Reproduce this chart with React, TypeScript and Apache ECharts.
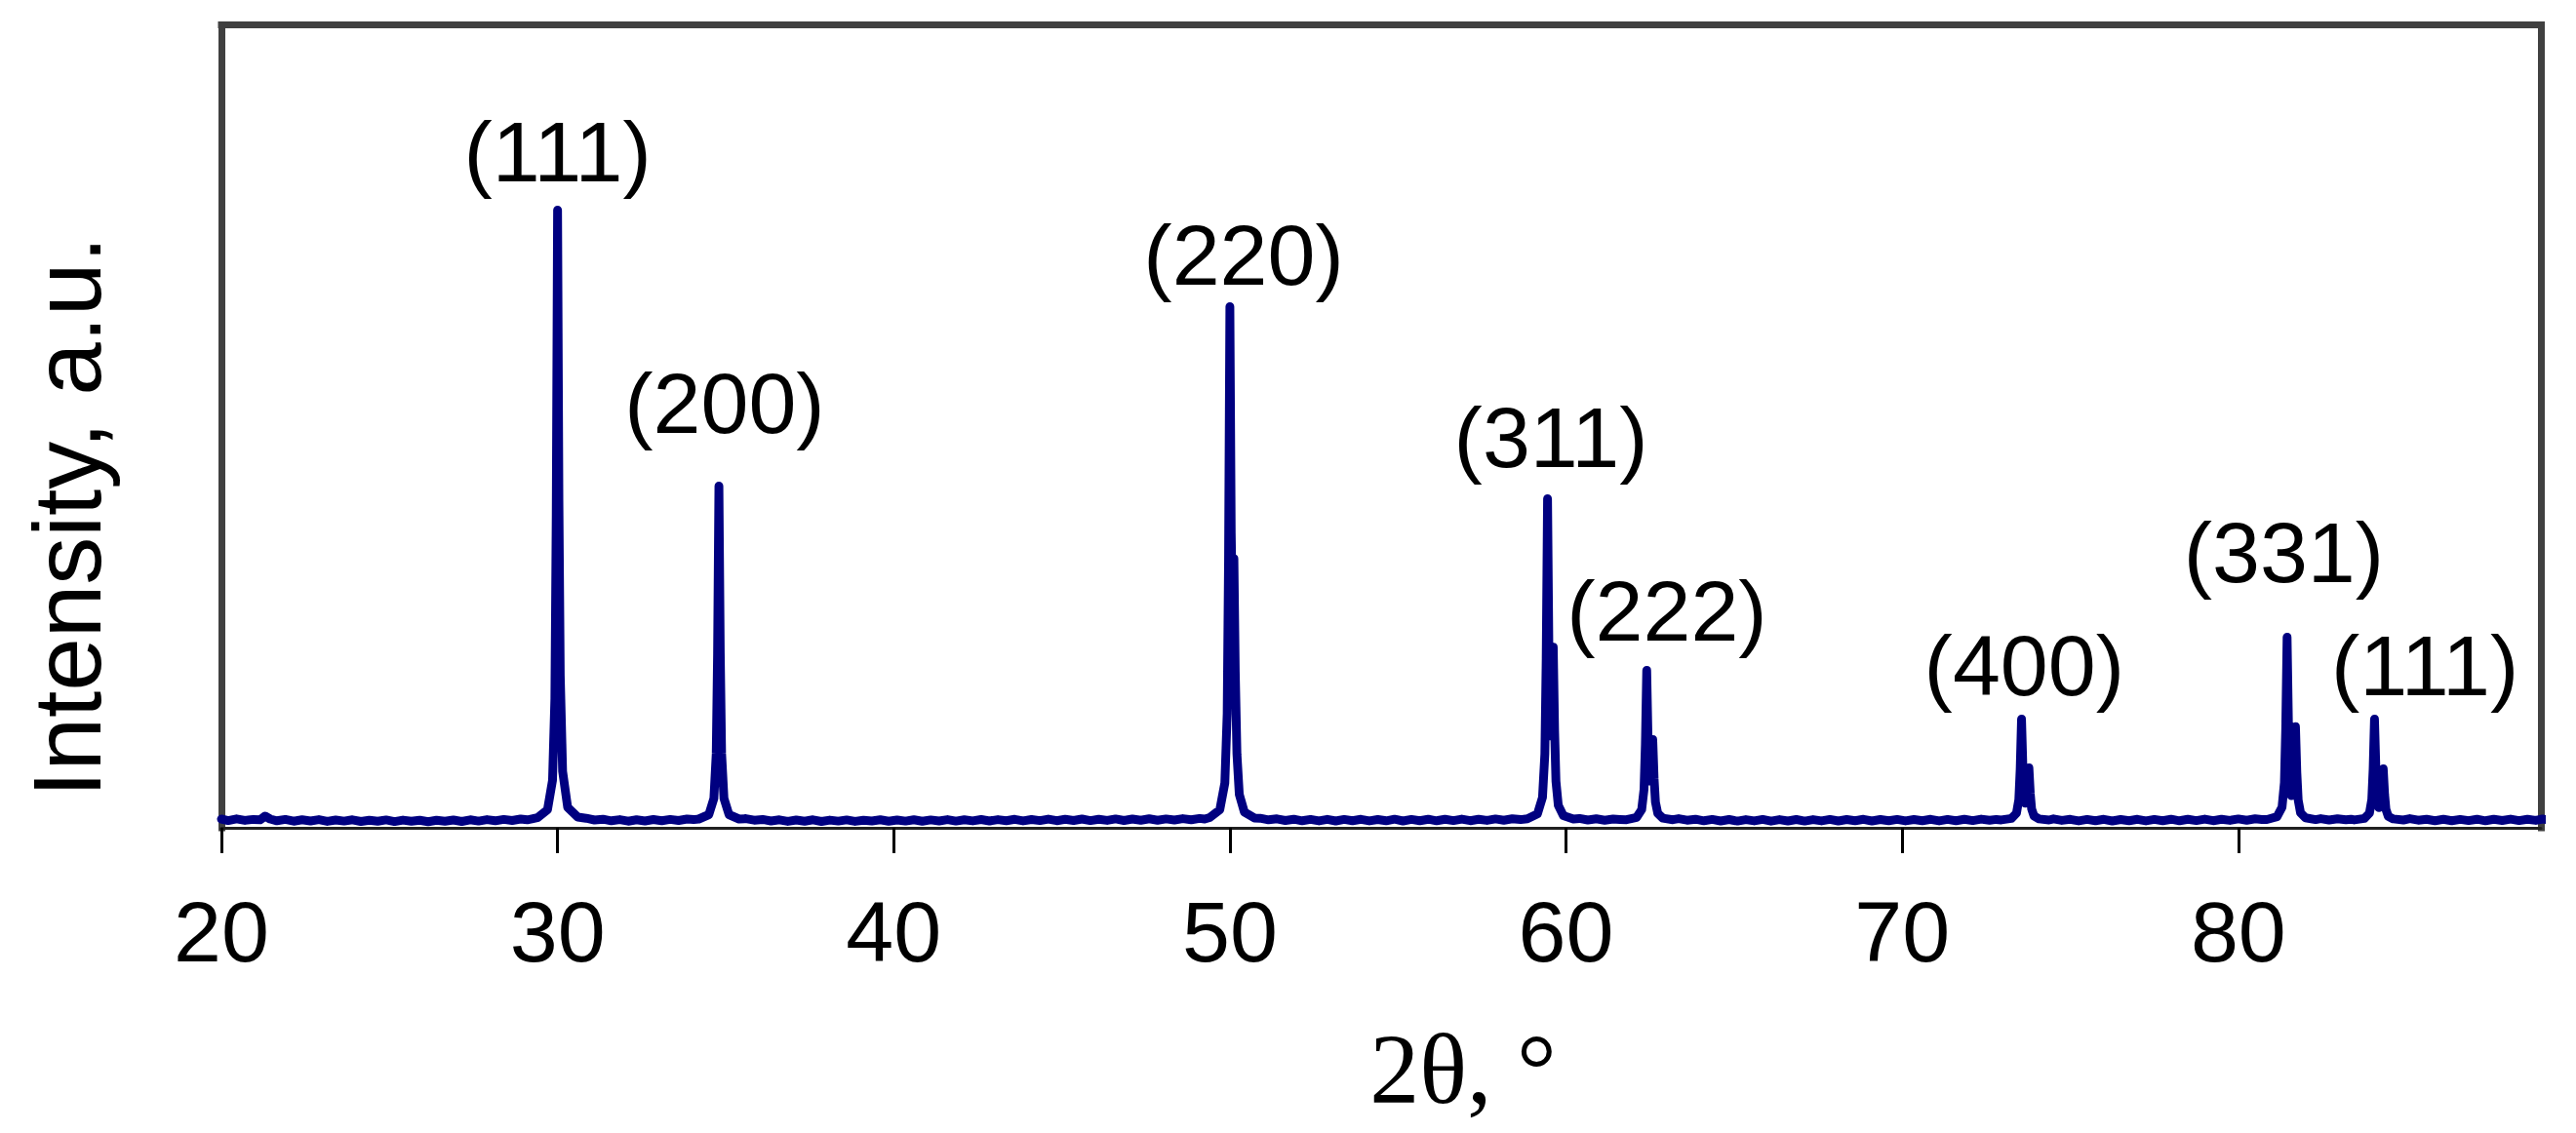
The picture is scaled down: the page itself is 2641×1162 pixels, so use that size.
import React, { useEffect, useRef } from "react";
import * as echarts from "echarts";

// 2θ tick labels
const xTicks = [20, 30, 40, 50, 60, 70, 80];

// background (between reflections), [2θ, intensity]
const bgA: [number, number][] = [
  [20.0, 30], [20.2, 14], [20.45, 32], [20.7, 16], [20.95, 26], [21.15, 22], [21.3, 60], [21.45, 30],
  [21.65, 12], [21.9, 26], [22.15, 8], [22.4, 22], [22.65, 10], [22.9, 24], [23.15, 6], [23.4, 20],
  [23.65, 9], [23.9, 22], [24.15, 5], [24.4, 18], [24.65, 8], [24.9, 21], [25.15, 4], [25.4, 19],
  [25.65, 7], [25.9, 18], [26.15, 3], [26.4, 17], [26.65, 8], [26.9, 20], [27.15, 5], [27.4, 22],
  [27.65, 9], [27.9, 24], [28.15, 12], [28.4, 26], [28.65, 15], [28.9, 30], [29.1, 22],
];
const bgB: [number, number][] = [
  [30.85, 38], [31.1, 20], [31.35, 28], [31.6, 12], [31.85, 24], [32.1, 8], [32.35, 22], [32.6, 10],
  [32.85, 25], [33.1, 12], [33.35, 26], [33.6, 15], [33.85, 30], [34.05, 24],
];
const bgC: [number, number][] = [
  [35.6, 34], [35.85, 18], [36.1, 26], [36.35, 10], [36.6, 22], [36.85, 6], [37.1, 20], [37.35, 8],
  [37.6, 22], [37.85, 5], [38.1, 19], [38.35, 9], [38.6, 21], [38.85, 6], [39.1, 18], [39.35, 10],
  [39.6, 22], [39.85, 7], [40.1, 20], [40.35, 9], [40.6, 23], [40.85, 8], [41.1, 21], [41.35, 10],
  [41.6, 24], [41.85, 9], [42.1, 22], [42.35, 11], [42.6, 25], [42.85, 10], [43.1, 24], [43.35, 12],
  [43.6, 27], [43.85, 11], [44.1, 25], [44.35, 14], [44.6, 29], [44.85, 13], [45.1, 27], [45.35, 15],
  [45.6, 30], [45.85, 14], [46.1, 28], [46.35, 16], [46.6, 31], [46.85, 15], [47.1, 30], [47.35, 17],
  [47.6, 32], [47.85, 18], [48.1, 31], [48.35, 20], [48.6, 34], [48.85, 22], [49.1, 36], [49.25, 30],
];
const bgD: [number, number][] = [
  [50.9, 38], [51.15, 22], [51.4, 32], [51.65, 15], [51.9, 28], [52.15, 12], [52.4, 26], [52.65, 11],
  [52.9, 27], [53.15, 10], [53.4, 26], [53.65, 12], [53.9, 27], [54.15, 11], [54.4, 25], [54.65, 12],
  [54.9, 28], [55.15, 10], [55.4, 26], [55.65, 13], [55.9, 28], [56.15, 12], [56.4, 27], [56.65, 14],
  [56.9, 29], [57.15, 13], [57.4, 28], [57.65, 16], [57.9, 31], [58.15, 18], [58.4, 33], [58.65, 24],
];
const bgE: [number, number][] = [
  [60.4, 36], [60.65, 20], [60.9, 32], [61.15, 18], [61.4, 30], [61.6, 26],
];
const bgF: [number, number][] = [
  [63.35, 34], [63.6, 18], [63.85, 28], [64.1, 12], [64.35, 26], [64.6, 10], [64.85, 25], [65.1, 9],
  [65.35, 24], [65.6, 11], [65.85, 26], [66.1, 8], [66.35, 24], [66.6, 10], [66.85, 25], [67.1, 9],
  [67.35, 24], [67.6, 11], [67.85, 26], [68.1, 10], [68.35, 25], [68.6, 12], [68.85, 27], [69.1, 10],
  [69.35, 25], [69.6, 12], [69.85, 26], [70.1, 11], [70.35, 25], [70.6, 12], [70.85, 27], [71.1, 11],
  [71.35, 26], [71.6, 13], [71.85, 28], [72.1, 14], [72.35, 29], [72.6, 18], [72.8, 26],
];
const bgG: [number, number][] = [
  [74.5, 32], [74.75, 16], [75.0, 27], [75.25, 11], [75.5, 26], [75.75, 12], [76.0, 27], [76.25, 10],
  [76.5, 25], [76.75, 12], [77.0, 27], [77.25, 11], [77.5, 26], [77.75, 13], [78.0, 28], [78.25, 12],
  [78.5, 27], [78.75, 14], [79.0, 29], [79.25, 13], [79.5, 28], [79.75, 16], [80.0, 31], [80.25, 18],
  [80.5, 32], [80.7, 26],
];
const bgH: [number, number][] = [
  [82.45, 34], [82.7, 20], [82.95, 32], [83.2, 22], [83.35, 28],
];
const bgI: [number, number][] = [
  [85.1, 34], [85.35, 18], [85.6, 28], [85.85, 13], [86.1, 27], [86.35, 12], [86.6, 26], [86.85, 14],
  [87.1, 28], [87.35, 12], [87.6, 27], [87.85, 15], [88.1, 29], [88.35, 14], [88.6, 28], [88.85, 16],
  [89.05, 30], [89.2, 22],
];

// reflections, [2θ, intensity]
const peak111: [number, number][] = [
  [29.4, 43], [29.7, 125], [29.85, 428], [29.92, 1267], [29.96, 3145], [30.0, 6275],
  [30.04, 3300], [30.08, 1500], [30.15, 520], [30.3, 150], [30.6, 50],
];
const peak200: [number, number][] = [
  [34.2, 30], [34.5, 75], [34.65, 241], [34.72, 701], [34.76, 1730], [34.8, 3445],
  [34.84, 1730], [34.88, 701], [34.95, 241], [35.1, 75], [35.4, 30],
];
const peak220: [number, number][] = [
  [49.4, 45], [49.7, 125], [49.85, 399], [49.92, 1114], [49.96, 2673], [50.0, 5285],
  [50.04, 2961], [50.08, 2011], [50.12, 2700], [50.16, 1544], [50.21, 697], [50.28, 283],
  [50.43, 102], [50.73, 41],
];
const peak311: [number, number][] = [
  [58.85, 33], [59.15, 83], [59.3, 253], [59.37, 698], [59.41, 1679], [59.45, 3315],
  [59.49, 1761], [59.535, 883], [59.58, 1097], [59.62, 1792], [59.66, 932], [59.7, 417],
  [59.77, 169], [59.92, 66], [60.22, 31],
];
const peak222: [number, number][] = [
  [61.8, 23], [62.1, 47], [62.25, 126], [62.32, 334], [62.36, 792], [62.4, 1555],
  [62.44, 830], [62.49, 420], [62.54, 520], [62.58, 844], [62.62, 443], [62.66, 203],
  [62.73, 87], [62.88, 39], [63.18, 23],
];
const peak400: [number, number][] = [
  [72.95, 21], [73.25, 36], [73.4, 90], [73.47, 230], [73.51, 540], [73.55, 1055],
  [73.59, 566], [73.66, 192], [73.73, 316], [73.77, 554], [73.81, 292], [73.85, 134],
  [73.92, 62], [74.07, 31], [74.37, 20],
];
const peak331: [number, number][] = [
  [80.85, 25], [81.15, 53], [81.3, 151], [81.37, 404], [81.41, 963], [81.45, 1895],
  [81.49, 1010], [81.575, 270], [81.66, 537], [81.7, 977], [81.74, 507], [81.78, 225],
  [81.85, 94], [82.0, 42], [82.3, 24],
];
const peak420: [number, number][] = [
  [83.45, 21], [83.75, 36], [83.9, 90], [83.97, 230], [84.01, 540], [84.05, 1055],
  [84.09, 566], [84.18, 147], [84.27, 301], [84.31, 545], [84.35, 286], [84.39, 130],
  [84.46, 58], [84.61, 31], [84.91, 20],
];

// reflection labels and where they sit (2θ, intensity)
const labelText = ["(111)", "(200)", "(220)", "(311)", "(222)", "(400)", "(331)", "(111)"];
const labelX = [30.0, 34.97, 50.41, 59.55, 63.0, 73.63, 81.35, 85.55];
const labelY = [6880, 4300, 5820, 3950, 2170, 1610, 2770, 1610];

const xTitle = "2θ, °";
const yTitle = "Intensity, a.u.";

export default function App() {
  const ref = useRef<HTMLDivElement>(null);
  useEffect(() => {
    if (!ref.current) return;
    const chart = echarts.init(ref.current, undefined, { renderer: "svg" });
    const pattern = [
      ...bgA, ...bgB, ...bgC, ...bgD, ...bgE, ...bgF, ...bgG, ...bgH, ...bgI,
      ...peak111, ...peak200, ...peak220, ...peak311,
      ...peak222, ...peak400, ...peak331, ...peak420,
    ].sort((a, b) => a[0] - b[0]);
    const frame = { color: "#404040", width: 7, cap: "square" as const };
    chart.setOption({
      animation: false,
      backgroundColor: "#ffffff",
      grid: { left: 227, right: 36, top: 25.5, bottom: 313, containLabel: false },
      xAxis: [
        {
          type: "value", min: 20, max: 89, position: "bottom",
          axisLine: { show: true, onZero: false, lineStyle: { color: "#202020", width: 3 } },
          axisTick: { show: true, inside: false, length: 26, customValues: xTicks, lineStyle: { color: "#000", width: 3 } },
          axisLabel: { show: true, customValues: xTicks, margin: 62, fontSize: 88, fontFamily: "Liberation Sans, Arial, sans-serif", color: "#000" },
          splitLine: { show: false },
        },
        {
          type: "value", min: 20, max: 89, position: "top",
          axisLine: { show: true, onZero: false, lineStyle: frame },
          axisTick: { show: false }, axisLabel: { show: false }, splitLine: { show: false },
        },
      ],
      yAxis: [
        {
          type: "value", min: -60, max: 8175, position: "left",
          axisLine: { show: true, onZero: false, lineStyle: frame },
          axisTick: { show: false }, axisLabel: { show: false }, splitLine: { show: false },
        },
        {
          type: "value", min: -60, max: 8175, position: "right",
          axisLine: { show: true, onZero: false, lineStyle: frame },
          axisTick: { show: false }, axisLabel: { show: false }, splitLine: { show: false },
        },
      ],
      series: [
        {
          type: "line",
          data: pattern,
          xAxisIndex: 0, yAxisIndex: 0,
          showSymbol: false, symbol: "none", clip: false, silent: true,
          lineStyle: { color: "#000080", width: 9, join: "round", cap: "round", opacity: 1 },
          z: 3,
        },
        {
          type: "scatter",
          xAxisIndex: 0, yAxisIndex: 0,
          symbolSize: 0, silent: true,
          itemStyle: { opacity: 1 },
          data: labelText.map((t, i) => ({ name: t, value: [labelX[i], labelY[i]] })),
          label: {
            show: true, position: "inside", formatter: "{b}", opacity: 1,
            textBorderWidth: 0,
            fontSize: 88, fontFamily: "Liberation Sans, Arial, sans-serif", color: "#000000",
          },
          z: 4,
        },
      ],
      graphic: [
        {
          type: "text", x: 1500, y: 1096,
          style: { text: xTitle, font: '102px "Liberation Serif", "Times New Roman", serif', fill: "#000", align: "center", verticalAlign: "middle" },
        },
        {
          type: "text", x: 69, y: 530, rotation: Math.PI / 2,
          style: { text: yTitle, font: '98px "Liberation Sans", Arial, sans-serif', fill: "#000", align: "center", verticalAlign: "middle" },
        },
      ],
    });
    return () => chart.dispose();
  }, []);
  return (
    <div
      ref={ref}
      style={{ position: "fixed", left: 0, top: 0, width: 2641, height: 1162, background: "#fff" }}
    />
  );
}
